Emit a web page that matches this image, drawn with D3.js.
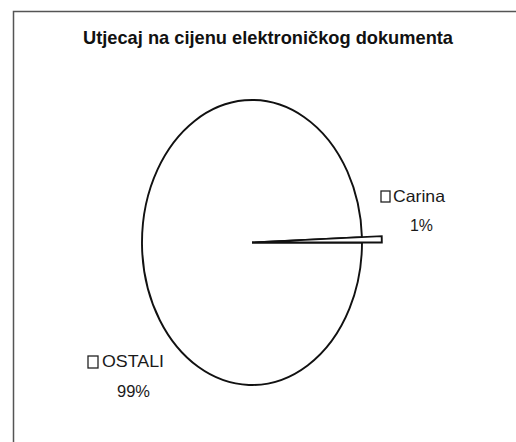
<!DOCTYPE html>
<html><head><meta charset="utf-8">
<script src="https://cdn.jsdelivr.net/npm/d3@7"></script>
<style>body{margin:0;background:#fff}svg{display:block}</style>
</head><body>
<svg id="chart" width="516" height="442"></svg>
<script>
const title = "Utjecaj na cijenu elektroničkog dokumenta";
const categories = ["Carina", "OSTALI"];
const values = [0.6, 99.4];
const percentLabels = ["1%", "99%"];

const svg = d3.select("#chart");
// frame
svg.append("path").attr("d", "M13.5,442 L13.5,11.5 L516,11.5")
  .attr("fill", "none").attr("stroke", "#555").attr("stroke-width", 1.5);

svg.append("text").attr("x", 83).attr("y", 44)
  .attr("textLength", 370).attr("lengthAdjust", "spacingAndGlyphs")
  .attr("font-family", "Liberation Sans, Arial, sans-serif").attr("font-weight", "bold")
  .attr("font-size", 18.5).attr("fill", "#111").text(title);

const cx = 252, cy = 242.5, rx = 110, ry = 142.5;
const start = Math.PI/2 - values[0]/100*2*Math.PI;
const pie = d3.pie().sort(null).value(d => d)
  .startAngle(start).endAngle(start + 2*Math.PI);
const arcs = pie(values);
const g = svg.append("g").attr("transform", `translate(${cx},${cy}) scale(${rx/100},${ry/100})`);
const radii = [118, 100];
g.selectAll("path").data(arcs).join("path")
  .attr("d", (d, i) => d3.arc().innerRadius(0).outerRadius(radii[i])(d))
  .attr("fill", "#fff").attr("stroke", "#111").attr("stroke-width", 1.9)
  .attr("vector-effect", "non-scaling-stroke");
g.selectAll("path").filter((d, i) => i === 0).raise();

const font = "Liberation Sans, Arial, sans-serif";
const legend = [
  {sq: [381, 191, 9, 11], tx: 393, ty: 202, tl: 52, px: 410, py: 231, pl: 23},
  {sq: [88, 356, 10, 12], tx: 102, ty: 367, tl: 62, px: 117, py: 397, pl: 33}
];
legend.forEach((p, i) => {
  svg.append("rect").attr("x", p.sq[0]).attr("y", p.sq[1]).attr("width", p.sq[2]).attr("height", p.sq[3])
    .attr("fill", "#fff").attr("stroke", "#222").attr("stroke-width", 1.3);
  svg.append("text").attr("x", p.tx).attr("y", p.ty).attr("font-family", font).attr("font-size", 16.5)
    .attr("textLength", p.tl).attr("lengthAdjust", "spacingAndGlyphs").attr("fill", "#1a1a1a").text(categories[i]);
  svg.append("text").attr("x", p.px).attr("y", p.py).attr("font-family", font).attr("font-size", 16.5)
    .attr("textLength", p.pl).attr("lengthAdjust", "spacingAndGlyphs").attr("fill", "#1a1a1a").text(percentLabels[i]);
});
</script>
</body></html>
